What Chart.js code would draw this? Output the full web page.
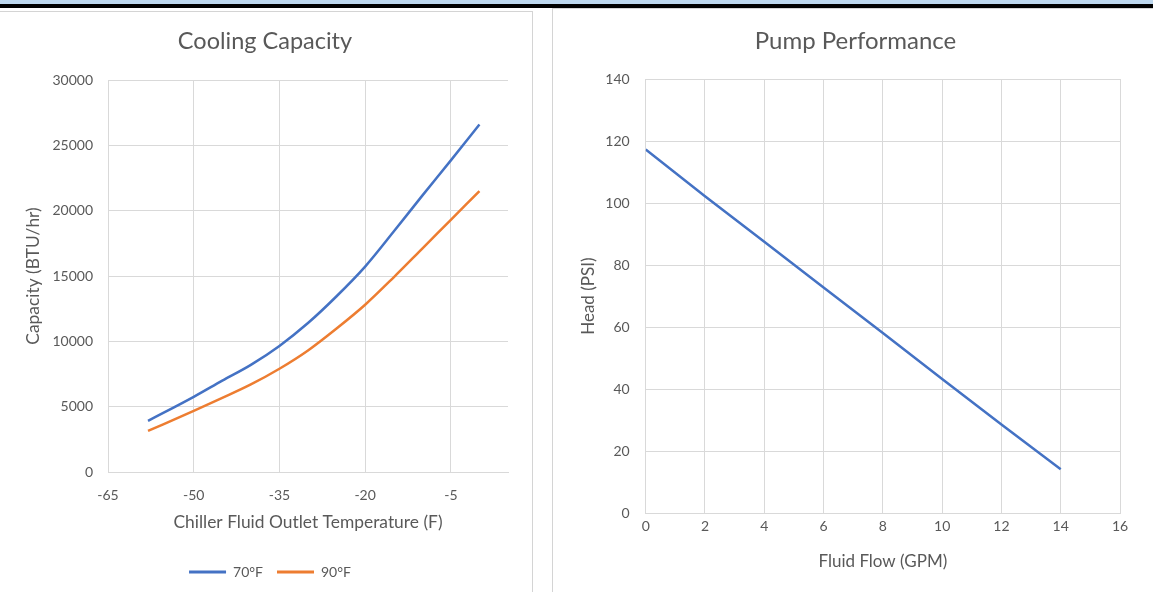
<!DOCTYPE html>
<html>
<head>
<meta charset="utf-8">
<script src="https://cdn.jsdelivr.net/npm/chart.js@4.4.1/dist/chart.umd.min.js"></script>
<style>
    body { margin: 0; width: 1153px; height: 592px; overflow: hidden; background: #fff; position: relative; }
    #stripBlue { position: absolute; left: 0; top: 0; width: 1153px; height: 4px; background: #bdd7ee; }
    #stripBlack { position: absolute; left: 0; top: 4px; width: 1153px; height: 4px; background: #000; }
    #coolPanel { position: absolute; left: 0; top: 11px; width: 532px; height: 580px; border-top: 1px solid #d4d4d4; border-right: 1px solid #d4d4d4; }
    #pumpPanel { position: absolute; left: 552px; top: 8px; width: 600px; height: 583px; border-top: 1px solid #d4d4d4; border-left: 1px solid #d4d4d4; }
</style>
</head>
<body>
<div id="stripBlue"></div>
<div id="stripBlack"></div>
<div id="coolPanel"><canvas id="coolingChart"></canvas></div>
<div id="pumpPanel"><canvas id="pumpChart"></canvas></div>
<script>
// Data kapasitas pendinginan
const coolTemps = [-58, -50, -45, -40, -35, -30, -25, -20, -15, -10, -5, 0];
const cool70 = [3910, 5750, 6990, 8200, 9650, 11400, 13450, 15720, 18400, 21150, 23850, 26600];
const cool90 = [3140, 4680, 5670, 6700, 7900, 9300, 10980, 12800, 14900, 17100, 19300, 21500];
const coolXTicks = [-65, -50, -35, -20, -5];

// Data performa pompa
const pumpFlow = [0, 2, 4, 6, 8, 10, 12, 14];
const pumpHead = [117.3, 102.2, 87.5, 72.8, 58.1, 43.3, 28.6, 14.2];

const textColor = '#595959';
const gridColor = '#d9d9d9';
const fontFamily = 'Lato, "Open Sans", sans-serif';

function toPoints(xs, ys) {
    return xs.map((x, i) => ({ x: x, y: ys[i] }));
}

// Geser judul dan legenda sedikit ke kanan seperti di gambar asli
function shiftBlocks(titleShift, legendShift) {
    return {
        id: 'shiftBlocks',
        afterLayout(chart) {
            if (chart.titleBlock) chart.titleBlock.left += titleShift;
            if (chart.legend) chart.legend.left += legendShift;
        }
    };
}

// Fungsi untuk membuat grafik kapasitas
function renderCoolingChart() {
    const ctx = document.getElementById('coolingChart').getContext('2d');
    new Chart(ctx, {
        type: 'line',
        data: {
            datasets: [{
                label: '70°F',
                data: toPoints(coolTemps, cool70),
                borderColor: '#4472c4',
                backgroundColor: '#4472c4',
                borderWidth: 2.5,
                pointRadius: 0,
                cubicInterpolationMode: 'monotone'
            }, {
                label: '90°F',
                data: toPoints(coolTemps, cool90),
                borderColor: '#ed7d31',
                backgroundColor: '#ed7d31',
                borderWidth: 2.5,
                pointRadius: 0,
                cubicInterpolationMode: 'monotone'
            }]
        },
        plugins: [shiftBlocks(22, 32)],
        options: {
            responsive: true,
            maintainAspectRatio: false,
            animation: false,
            layout: { padding: { left: 0, right: 24, top: 0, bottom: 3 } },
            scales: {
                x: {
                    type: 'linear',
                    min: -65,
                    max: 5,
                    afterBuildTicks: scale => { scale.ticks = coolXTicks.map(v => ({ value: v })); },
                    afterFit: scale => { scale.height = 79; },
                    grid: { color: gridColor, drawTicks: false },
                    border: { color: gridColor },
                    ticks: { color: textColor, font: { family: fontFamily, size: 14 }, padding: 15 },
                    title: { display: true, text: 'Chiller Fluid Outlet Temperature (F)', color: textColor,
                             font: { family: fontFamily, size: 17.4 }, padding: { top: 0, bottom: 18 } }
                },
                y: {
                    min: 0,
                    max: 30000,
                    afterFit: scale => { scale.width = 108; },
                    grid: { color: gridColor, drawTicks: false },
                    border: { color: gridColor },
                    ticks: { stepSize: 5000, color: textColor, font: { family: fontFamily, size: 14 }, padding: 15,
                             callback: v => String(v) },
                    title: { display: true, text: 'Capacity (BTU/hr)', color: textColor,
                             font: { family: fontFamily, size: 17.4 }, padding: { top: 23, bottom: 0 } }
                }
            },
            plugins: {
                title: { display: true, text: 'Cooling Capacity', color: textColor,
                         font: { family: fontFamily, size: 23.5, weight: 'normal' }, padding: { top: 15.8, bottom: 24 } },
                legend: {
                    position: 'bottom',
                    labels: {
                        color: textColor,
                        font: { family: fontFamily, size: 14 },
                        boxWidth: 37,
                        boxHeight: 3,
                        padding: 14,
                        generateLabels: chart => Chart.defaults.plugins.legend.labels.generateLabels(chart)
                            .map(item => Object.assign(item, { lineWidth: 0 }))
                    }
                },
                tooltip: { enabled: false }
            }
        }
    });
}

// Fungsi untuk membuat grafik pompa
function renderPumpChart() {
    const ctx = document.getElementById('pumpChart').getContext('2d');
    new Chart(ctx, {
        type: 'line',
        data: {
            datasets: [{
                label: 'Head',
                data: toPoints(pumpFlow, pumpHead),
                borderColor: '#4472c4',
                borderWidth: 2.5,
                pointRadius: 0
            }]
        },
        plugins: [shiftBlocks(38, 0)],
        options: {
            responsive: true,
            maintainAspectRatio: false,
            animation: false,
            layout: { padding: { left: 0, right: 33, top: 0, bottom: 0 } },
            scales: {
                x: {
                    type: 'linear',
                    min: 0,
                    max: 16,
                    afterFit: scale => { scale.height = 78.7; },
                    grid: { color: gridColor, drawTicks: false },
                    border: { color: gridColor },
                    ticks: { stepSize: 2, color: textColor, font: { family: fontFamily, size: 14 }, padding: 5 },
                    title: { display: true, text: 'Fluid Flow (GPM)', color: textColor,
                             font: { family: fontFamily, size: 17 }, padding: { top: 0, bottom: 20.5 } }
                },
                y: {
                    min: 0,
                    max: 140,
                    afterFit: scale => { scale.width = 92.7; },
                    grid: { color: gridColor, drawTicks: false },
                    border: { color: gridColor },
                    ticks: { stepSize: 20, color: textColor, font: { family: fontFamily, size: 14 }, padding: 16 },
                    title: { display: true, text: 'Head (PSI)', color: textColor,
                             font: { family: fontFamily, size: 17 }, padding: { top: 25, bottom: 0 } }
                }
            },
            plugins: {
                title: { display: true, text: 'Pump Performance', color: textColor,
                         font: { family: fontFamily, size: 24, weight: 'normal' }, padding: { top: 17.6, bottom: 23.6 } },
                legend: { display: false },
                tooltip: { enabled: false }
            }
        }
    });
}

document.addEventListener('DOMContentLoaded', () => {
    renderCoolingChart();
    renderPumpChart();
});
</script>
</body>
</html>
